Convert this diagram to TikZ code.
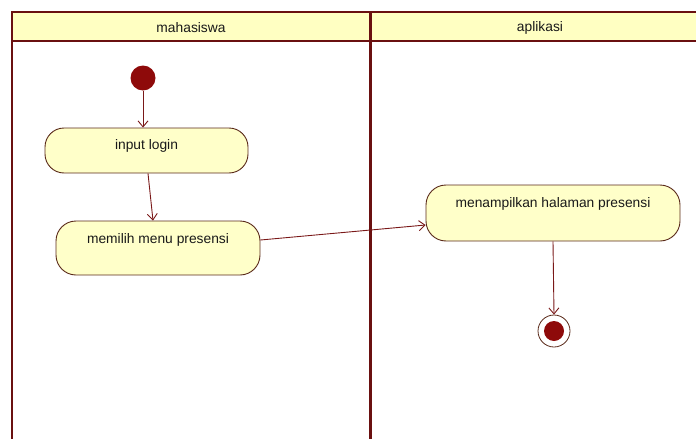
\documentclass[tikz,border=0pt]{standalone}
\usepackage{fontspec}
\setmainfont{Liberation Sans}
\usetikzlibrary{arrows.meta}
\definecolor{lanecol}{HTML}{6A1010}
\definecolor{headfill}{HTML}{FFFFC2}
\definecolor{actfill}{HTML}{FFFFC9}
\definecolor{actline}{HTML}{5A2A1A}
\definecolor{flowcol}{HTML}{7A1818}
\definecolor{dotcol}{HTML}{8E0A0A}
\begin{document}
\begin{tikzpicture}[x=1pt,y=-1pt,
  lbl/.style={font=\fontsize{13.8}{16}\selectfont, text=black!90},
  activity/.style={draw=actline, fill=actfill, rounded corners=19pt,
    line width=0.9pt, inner sep=0pt, align=center,
    font=\fontsize{13.8}{16}\selectfont, text=black!90},
  flow/.style={draw=flowcol, line width=0.9pt,
    -{Straight Barb[length=6pt,width=10pt,line width=0.9pt]}},
  lane/.style={draw=lanecol, line width=2.6pt}]
\useasboundingbox (0,0) rectangle (696,439);
\clip (0,0) rectangle (696,439);

% swimlane frame and headers
\fill[headfill] (12,12) rectangle (710,41);
\draw[lane] (12,460) -- (12,12) -- (710,12);
\draw[lanecol, line width=2pt] (12,41) -- (710,41);
\draw[lane, line width=3pt] (370,12) -- (370,460);
\node[lbl] (lanea) at (191,28) {mahasiswa};
\node[lbl] (laneb) at (540,28) {aplikasi};

% initial and final states
\node[circle, fill=dotcol, minimum size=25pt, inner sep=0pt] (start) at (143,78) {};
\node[circle, draw=actline, line width=0.8pt, fill=white, minimum size=32pt, inner sep=0pt,
  path picture={\fill[dotcol] (path picture bounding box.center) circle (10pt);}]
  (final) at (554,331) {};

% activities
\node[activity, minimum width=203pt, minimum height=45pt, text height=21pt, text depth=24pt]
  (login) at (146.5,150.5) {input login};
\node[activity, rounded corners=20pt, minimum width=204pt, minimum height=54pt, text height=22pt, text depth=32pt]
  (menu) at (158,248) {memilih menu presensi};
\node[activity, rounded corners=20pt, minimum width=254pt, minimum height=56pt, text height=22pt, text depth=34pt]
  (show) at (553,213) {menampilkan halaman presensi};

% control flows
\draw[flow] (start.south) -- (start.south |- login.north);
\draw[flow] ([xshift=1.5pt]login.south) -- ([xshift=-5pt]menu.north);
\draw[flow] ([yshift=8pt]menu.east) -- ([yshift=-12pt]show.west);
\draw[flow] (show.south) -- (final.north);
\end{tikzpicture}
\end{document}
